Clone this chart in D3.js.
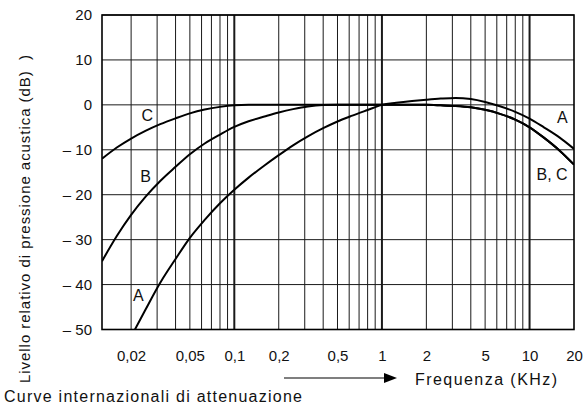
<!DOCTYPE html>
<html>
<head>
<meta charset="utf-8">
<script src="https://cdn.jsdelivr.net/npm/d3@7"></script>
<style>
  body { margin: 0; background: #fff; }
  svg { display: block; font-family: "Liberation Sans", Arial, sans-serif; }
</style>
</head>
<body>
<svg id="chart"></svg>
<script>
// frequencies (kHz) and weighting curves (dB)
let freqs  = [0.0127, 0.016, 0.02, 0.025, 0.0315, 0.04, 0.05, 0.063, 0.08, 0.1, 0.125, 0.16, 0.2, 0.25, 0.315, 0.4, 0.5, 0.63, 0.8, 1, 1.25, 1.6, 2, 2.5, 3.15, 4, 5, 6.3, 8, 10, 12.5, 16, 20];
let curveA = [null, null, -51.6, -45.6, -39.6, -34.3, -29.6, -25.6, -21.9, -18.9, -16.2, -13.5, -11.2, -9.0, -7.0, -5.2, -3.7, -2.4, -1.15, 0, 0.45, 0.85, 1.15, 1.4, 1.55, 1.3, 0.65, -0.3, -1.55, -3.05, -5.0, -7.3, -9.8];
let curveB = [-34.8, -29.2, -24.5, -20.5, -16.95, -13.8, -11.0, -8.6, -6.6, -4.9, -3.65, -2.6, -1.7, -0.95, -0.35, -0.05, 0, 0, 0, 0, 0, 0, 0, -0.1, -0.25, -0.55, -1.1, -2.0, -3.3, -5.0, -7.3, -10.2, -13.3];
let curveC = [-12.0, -9.5, -7.5, -5.8, -4.3, -3.0, -1.9, -1.05, -0.45, -0.1, 0, 0, 0, 0, 0, 0, 0, 0, 0, 0, 0, 0, 0, -0.1, -0.25, -0.55, -1.1, -2.0, -3.3, -5.0, -7.3, -10.2, -13.3];

let xTickValues = [0.02, 0.05, 0.1, 0.2, 0.5, 1, 2, 5, 10, 20];
let yTickValues = [20, 10, 0, -10, -20, -30, -40, -50];

// curve letters: text, frequency, level
let labelText = ["C", "B", "A", "A", "B, C"];
let labelFreq = [0.0257, 0.0251, 0.0224, 16.7, 14.2];
let labelLevel = [-2.3, -15.9, -42.3, -2.8, -15.4];

let width = 587, height = 419;
let margin = {left: 102, right: 574, top: 15, bottom: 329.5};

let svg = d3.select("#chart")
  .attr("width", width)
  .attr("height", height);

let x = d3.scaleLog().domain([0.0127, 20]).range([margin.left, margin.right]);
let y = d3.scaleLinear().domain([-50, 20]).range([margin.bottom, margin.top]);

// vertical grid, decades heavier
let gridF = x.ticks().filter(d => d < 20);
svg.append("g")
  .selectAll("line")
  .data(gridF)
  .join("line")
    .attr("x1", d => x(d)).attr("x2", d => x(d))
    .attr("y1", margin.top).attr("y2", margin.bottom)
    .attr("stroke", "#1a1a1a")
    .attr("stroke-width", d => Math.abs(Math.log10(d) - Math.round(Math.log10(d))) < 1e-6 ? 2 : 1);

// horizontal grid
svg.append("g")
  .selectAll("line")
  .data(yTickValues)
  .join("line")
    .attr("x1", margin.left).attr("x2", margin.right)
    .attr("y1", d => y(d)).attr("y2", d => y(d))
    .attr("stroke", "#1a1a1a")
    .attr("stroke-width", 1);

// frame
svg.append("rect")
  .attr("x", margin.left).attr("y", margin.top)
  .attr("width", margin.right - margin.left).attr("height", margin.bottom - margin.top)
  .attr("fill", "none")
  .attr("stroke", "#000")
  .attr("stroke-width", 1.6);

// axes (labels only)
let yAxis = svg.append("g")
  .attr("transform", `translate(${margin.left},0)`)
  .call(d3.axisLeft(y).tickValues(yTickValues).tickSize(0).tickPadding(10)
    .tickFormat(d => d < 0 ? "\u2013 " + (-d) : String(d)));
yAxis.select(".domain").remove();
yAxis.selectAll("text").attr("font-size", 15).attr("fill", "#111")
  .attr("font-family", "Liberation Sans, Arial, sans-serif");

let xAxis = svg.append("g")
  .attr("transform", `translate(0,${margin.bottom})`)
  .call(d3.axisBottom(x).tickValues(xTickValues).tickSize(0).tickPadding(21)
    .tickFormat(d => String(d).replace(".", ",")));
xAxis.select(".domain").remove();
xAxis.selectAll("text").attr("font-size", 15).attr("fill", "#111")
  .attr("font-family", "Liberation Sans, Arial, sans-serif");

// curves
svg.append("clipPath").attr("id", "plot")
  .append("rect")
  .attr("x", margin.left).attr("y", margin.top)
  .attr("width", margin.right - margin.left).attr("height", margin.bottom - margin.top);

let line = d3.line()
  .defined(d => d[1] !== null)
  .x(d => x(d[0]))
  .y(d => y(d[1]))
  .curve(d3.curveMonotoneX);

[curveA, curveB, curveC].forEach(function(series) {
  svg.append("path")
    .datum(freqs.map((f, i) => [f, series[i]]))
    .attr("clip-path", "url(#plot)")
    .attr("fill", "none")
    .attr("stroke", "#000")
    .attr("stroke-width", 2)
    .attr("d", line);
});

// curve letters
svg.append("g")
  .selectAll("text")
  .data(labelText)
  .join("text")
    .attr("x", (d, i) => x(labelFreq[i]))
    .attr("y", (d, i) => y(labelLevel[i]))
    .attr("dy", "0.36em")
    .attr("text-anchor", "middle")
    .attr("font-size", 16)
    .attr("fill", "#111")
    .text(d => d);

// y title
svg.append("text")
  .attr("transform", "translate(30,219) rotate(-90)")
  .attr("text-anchor", "middle")
  .attr("font-size", 15)
  .attr("fill", "#111")
  .attr("textLength", 328)
  .attr("lengthAdjust", "spacing")
  .text("Livello relativo di pressione acustica (dB)\u00a0\u00a0)");

// arrow + frequency label
svg.append("line")
  .attr("x1", 284).attr("x2", 388)
  .attr("y1", 378).attr("y2", 378)
  .attr("stroke", "#000").attr("stroke-width", 1.2);
svg.append("path")
  .attr("d", "M384,373L397,378L384,383Z")
  .attr("fill", "#000");

svg.append("text")
  .attr("x", 415).attr("y", 385)
  .attr("font-size", 16)
  .attr("fill", "#111")
  .attr("textLength", 142)
  .attr("lengthAdjust", "spacing")
  .text("Frequenza (KHz)");

svg.append("text")
  .attr("x", 4).attr("y", 402)
  .attr("font-size", 16)
  .attr("fill", "#111")
  .attr("textLength", 298)
  .attr("lengthAdjust", "spacing")
  .text("Curve internazionali di attenuazione");
</script>
</body>
</html>
